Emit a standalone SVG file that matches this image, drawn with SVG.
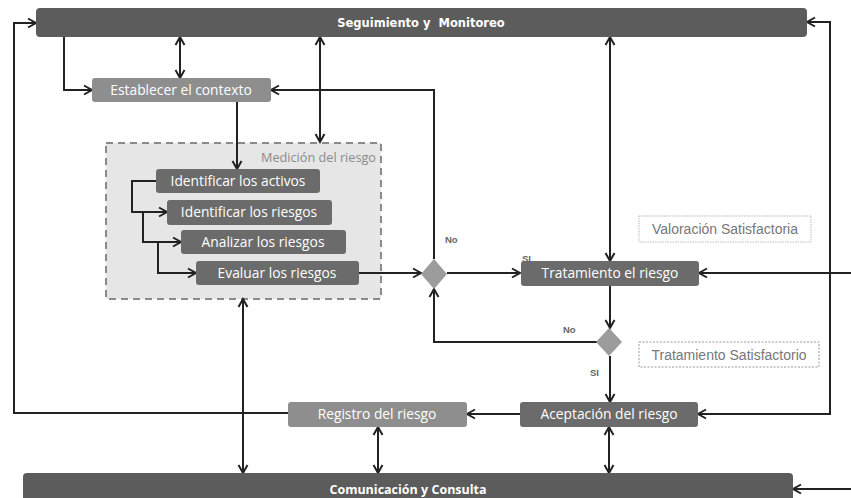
<svg xmlns="http://www.w3.org/2000/svg" width="851" height="498" viewBox="0 0 851 498">
<defs>
<marker id="arr" markerUnits="userSpaceOnUse" markerWidth="12" markerHeight="12" refX="9" refY="5" orient="auto-start-reverse" viewBox="0 0 12 10">
<path d="M1,0.5 L9,5 L1,9.5" fill="none" stroke="#222" stroke-width="2"/>
</marker>
</defs>
<style>
.bar{fill:#5c5c5c}
.dk{fill:#6b6b6b}
.lt{fill:#8e8e8e}
.dia{fill:#9c9c9c}
.bt{font-family:"DejaVu Sans",Verdana,sans-serif;font-size:11.5px;font-weight:bold;fill:#fff;text-anchor:middle}
.bt2{font-family:"Open Sans","Liberation Sans",sans-serif;font-size:12.5px;font-weight:bold;fill:#fff;text-anchor:middle}
.nt{font-family:"Open Sans","Liberation Sans",sans-serif;font-size:13.8px;fill:#fff;text-anchor:middle}
.lbl{font-family:"Liberation Sans",Arial,sans-serif;font-size:9.5px;font-weight:bold;fill:#666}
.note{font-family:"Liberation Sans",Arial,sans-serif;font-size:14px;fill:#777;text-anchor:middle}
.c{fill:none;stroke:#222;stroke-width:2}
.e{marker-end:url(#arr)}
.b{marker-start:url(#arr);marker-end:url(#arr)}
</style>
<rect width="851" height="498" fill="#fff"/>
<g id="medicion">
<rect x="106" y="143" width="275" height="156" fill="#e6e6e6" stroke="#8a8a8a" stroke-width="2" stroke-dasharray="7,5"/>
<text x="376" y="162" font-family="Open Sans,Liberation Sans,sans-serif" font-size="12.7" fill="#8a8a8a" text-anchor="end">Medición del riesgo</text>
</g>
<g id="connectors">
<path class="c e" d="M288,413 H14 V23 H36"/>
<path class="c e" d="M64,37 V90 H92"/>
<path class="c b" d="M180,37 V78"/>
<path class="c e" d="M434,259 V90 H271"/>
<path class="c b" d="M320,37 V142"/>
<path class="c e" d="M237,102 V169"/>
<path class="c e" d="M156,181 H132 V212 H167"/>
<path class="c e" d="M143,212 V242 H181"/>
<path class="c e" d="M158,242 V273 H196"/>
<path class="c e" d="M359,273 H421"/>
<path class="c e" d="M447,273 H520"/>
<path class="c b" d="M610,37 V261"/>
<path class="c e" d="M851,273 H699"/>
<path class="c e" d="M610,286 V328"/>
<path class="c e" d="M597,342 H434 V289"/>
<path class="c e" d="M610,356 V402"/>
<path class="c b" d="M807,22 H830 V414 H698"/>
<path class="c e" d="M520,414 H467"/>
<path class="c b" d="M243,299 V473"/>
<path class="c b" d="M378,427 V473"/>
<path class="c b" d="M609,427 V473"/>
<path class="c e" d="M851,489 H793"/>
</g>
<g id="seguimiento">
<rect class="bar" x="36" y="8" width="771" height="29" rx="4"/>
<text class="bt" x="421" y="27" xml:space="preserve">Seguimiento y  Monitoreo</text>
</g>
<g id="comunicacion">
<rect class="bar" x="23" y="473" width="770" height="32" rx="4"/>
<text class="bt2" x="408" y="494">Comunicación y Consulta</text>
</g>
<g id="establecer">
<rect class="lt" x="92" y="78" width="179" height="24" rx="3"/>
<text class="nt" x="181" y="95">Establecer el contexto</text>
</g>
<g id="identificar-activos">
<rect class="dk" x="156" y="169" width="164" height="24" rx="3"/>
<text class="nt" x="238" y="186">Identificar los activos</text>
</g>
<g id="identificar-riesgos">
<rect class="dk" x="167" y="200" width="165" height="25" rx="3"/>
<text class="nt" x="249" y="217">Identificar los riesgos</text>
</g>
<g id="analizar">
<rect class="dk" x="181" y="230" width="165" height="24" rx="3"/>
<text class="nt" x="263" y="247">Analizar los riesgos</text>
</g>
<g id="evaluar">
<rect class="dk" x="196" y="261" width="163" height="24" rx="3"/>
<text class="nt" x="277" y="278">Evaluar los riesgos</text>
</g>
<g id="decision1">
<polygon class="dia" points="434,259 447,274 434,289 421,274"/>
<text class="lbl" x="445" y="243">No</text>
<text class="lbl" x="522" y="262">SI</text>
</g>
<g id="tratamiento">
<rect class="dk" x="521" y="261" width="178" height="25" rx="3"/>
<text class="nt" x="610" y="278">Tratamiento el riesgo</text>
</g>
<g id="valoracion">
<rect x="639" y="216" width="172" height="26" fill="#fff" stroke="#bbb" stroke-width="1" stroke-dasharray="1.5,1"/>
<text class="note" x="725" y="234">Valoración Satisfactoria</text>
</g>
<g id="decision2">
<polygon class="dia" points="609,328 622,342 609,356 596,342"/>
<text class="lbl" x="563" y="333">No</text>
<text class="lbl" x="590" y="376">SI</text>
</g>
<g id="tratamiento-sat">
<rect x="639" y="342" width="180" height="25" fill="#fff" stroke="#999" stroke-width="1" stroke-dasharray="2,1.5"/>
<text class="note" x="729" y="360">Tratamiento Satisfactorio</text>
</g>
<g id="aceptacion">
<rect class="dk" x="520" y="402" width="178" height="25" rx="3"/>
<text class="nt" x="609" y="419">Aceptación del riesgo</text>
</g>
<g id="registro">
<rect class="lt" x="288" y="402" width="179" height="25" rx="3"/>
<text class="nt" x="377" y="419">Registro del riesgo</text>
</g>
</svg>
